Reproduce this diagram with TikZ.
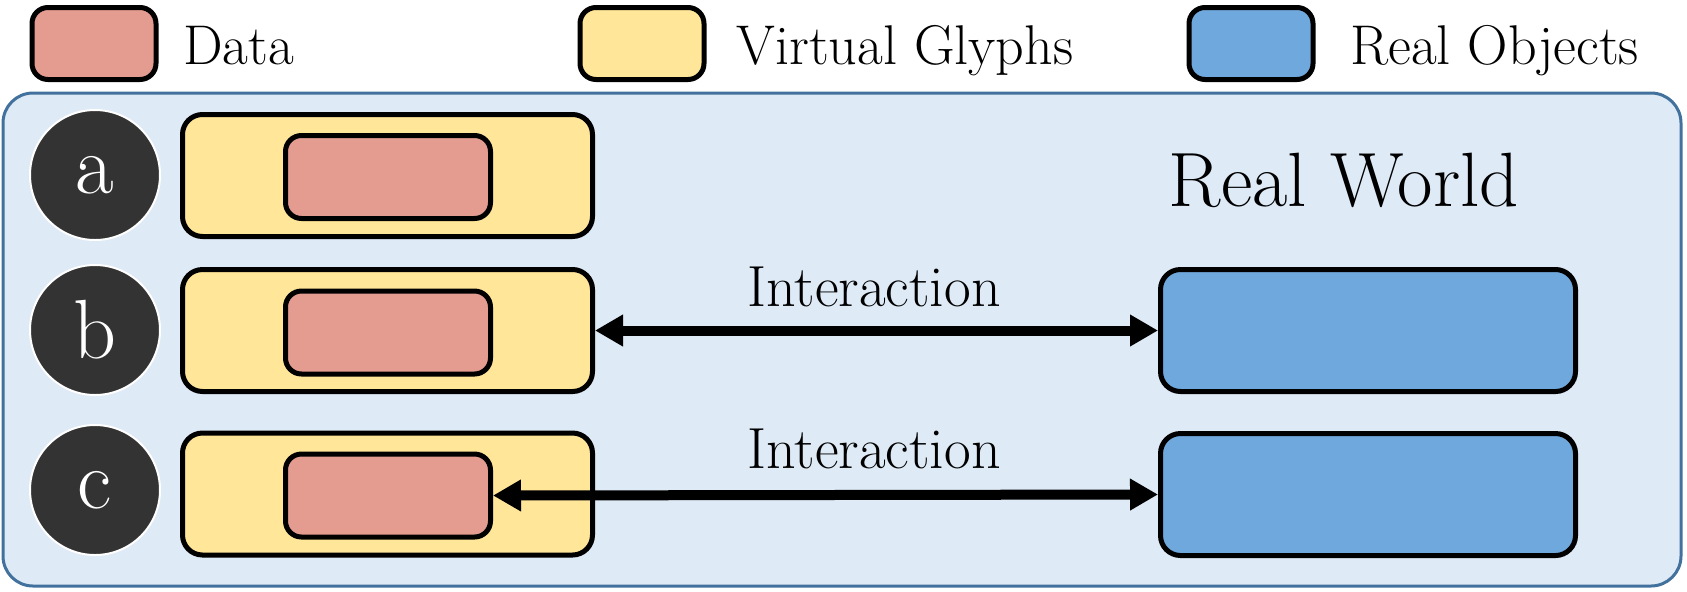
\documentclass[tikz,border=0pt]{standalone}
\usepackage{fontspec}
\usetikzlibrary{arrows.meta, positioning}
\definecolor{mydata}{RGB}{229,156,144}
\definecolor{myglyph}{RGB}{255,230,153}
\definecolor{myobject}{RGB}{111,168,220}
\definecolor{myworld}{RGB}{222,234,246}
\definecolor{myframe}{RGB}{65,113,156}
\definecolor{mydark}{RGB}{51,51,51}
\tikzset{
  swatch/.style={rectangle, draw=black, line width=2.5pt,
    rounded corners=8pt, minimum width=62pt, minimum height=36pt},
  glyphbox/.style={rectangle, draw=black, fill=myglyph, line width=2.5pt,
    rounded corners=10pt, minimum width=205pt, minimum height=61pt},
  databox/.style={rectangle, draw=black, fill=mydata, line width=2.5pt,
    rounded corners=8pt, minimum width=102.5pt, minimum height=41.5pt},
  objbox/.style={rectangle, draw=black, fill=myobject, line width=2.5pt,
    rounded corners=10pt, minimum width=207.5pt, minimum height=61pt},
  tag/.style={circle, draw=white, fill=mydark, line width=1pt,
    minimum size=65pt, inner sep=0pt, text=white,
    font=\fontsize{42}{48}\selectfont},
  legtext/.style={anchor=base west, inner sep=0pt,
    font=\fontsize{28}{34}\selectfont},
  lbl/.style={anchor=base, inner sep=0pt,
    font=\fontsize{29}{34}\selectfont},
  biarrow/.style={{Triangle[length=14pt, width=15pt]}-{Triangle[length=14pt, width=15pt]},
    line width=5pt}
}
\begin{document}
\begin{tikzpicture}[x=0.5pt, y=-0.5pt]
  \useasboundingbox (0,0) rectangle (1687,591);

  % Legend
  \node[swatch, fill=mydata] (ldata) at (94,43.5) {};
  \node[legtext] at (183,64.5) {Data};
  \node[swatch, fill=myglyph] (lglyph) at (642,43.5) {};
  \node[legtext] at (736,64.5) {Virtual Glyphs};
  \node[swatch, fill=myobject] (lobj) at (1251,43.5) {};
  \node[legtext] at (1350,64.5) {Real Objects};

  % Real world frame
  \draw[draw=myframe, fill=myworld, line width=1.5pt, rounded corners=15pt]
    (3,93) rectangle (1681,586);
  \node[anchor=base, inner sep=0pt, font=\fontsize{38.5}{46}\selectfont]
    (world) at (1344,206.5) {Real World};

  % Row a
  \node[tag] (ta) at (95,175) {a};
  \node[glyphbox] (ga) at (387.5,175.5) {};
  \node[databox] (da) at (388,177) {};

  % Row b
  \node[tag] (tb) at (95,330) {b};
  \node[glyphbox] (gb) at (387.5,330.5) {};
  \node[databox] (db) at (388,332.5) {};
  \node[objbox] (ob) at (1368,330.5) {};
  \draw[biarrow] (gb.east) -- (ob.west);
  \node[lbl] (ib) at (874,306.5) {Interaction};

  % Row c
  \node[tag] (tc) at (95,490) {c};
  \node[glyphbox] (gc) at (387.5,494) {};
  \node[databox] (dc) at (388,495.5) {};
  \node[objbox] (oc) at (1368,494.5) {};
  \draw[biarrow] (dc.east) -- (oc.west);
  \node[lbl] (ic) at (874,468) {Interaction};
\end{tikzpicture}
\end{document}
